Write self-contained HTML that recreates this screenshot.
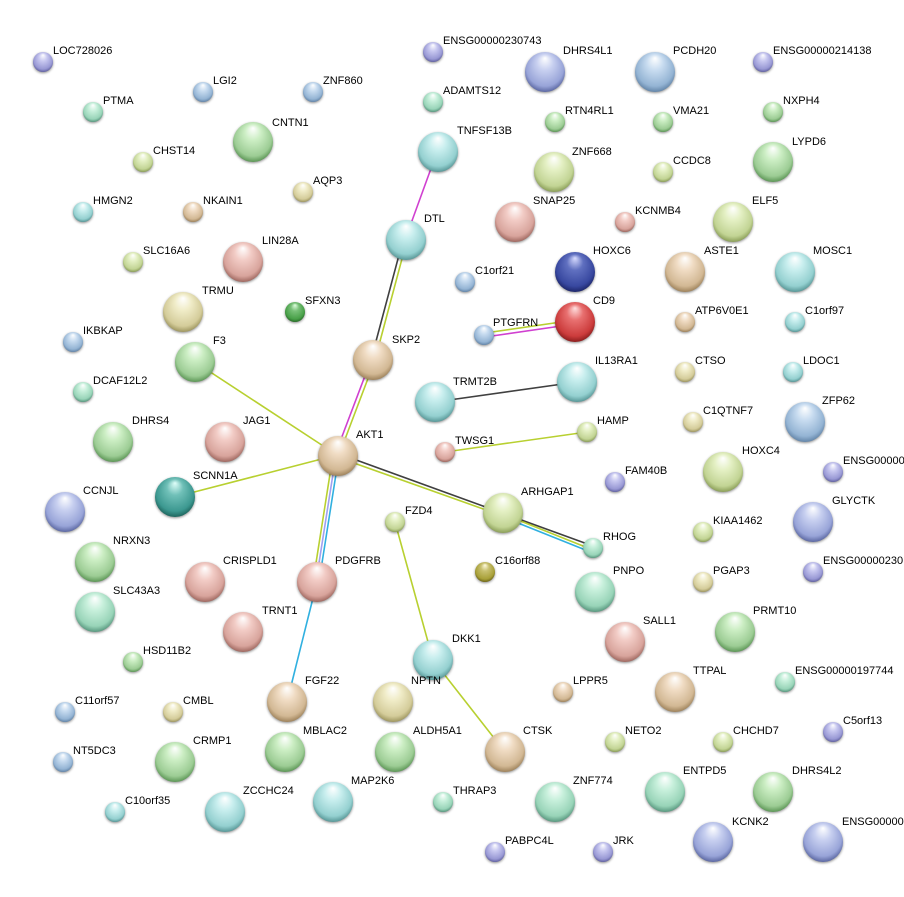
<!DOCTYPE html>
<html><head><meta charset="utf-8"><style>
html,body{margin:0;padding:0;background:#fff;width:904px;height:897px;overflow:hidden}
svg text{font-family:"Liberation Sans",Arial,sans-serif;font-size:11px;fill:#000}
svg g.n circle{filter:drop-shadow(0 1px 1.2px rgba(0,0,0,0.45))}
</style></head><body>
<svg width="904" height="897" viewBox="0 0 904 897" xmlns="http://www.w3.org/2000/svg">
<defs>
<radialGradient id="blue" cx="50%" cy="45%" r="58%" fx="50%" fy="15%"><stop offset="0" stop-color="#ffffff"/><stop offset="0.35" stop-color="#c8dcf0"/><stop offset="0.8" stop-color="#94b4d4"/><stop offset="1" stop-color="#5a7ca0"/></radialGradient>
<radialGradient id="purple" cx="50%" cy="45%" r="58%" fx="50%" fy="15%"><stop offset="0" stop-color="#ffffff"/><stop offset="0.35" stop-color="#c8c8f0"/><stop offset="0.8" stop-color="#9898d4"/><stop offset="1" stop-color="#585898"/></radialGradient>
<radialGradient id="bp" cx="50%" cy="45%" r="58%" fx="50%" fy="15%"><stop offset="0" stop-color="#ffffff"/><stop offset="0.35" stop-color="#c8d0f0"/><stop offset="0.8" stop-color="#98a4d8"/><stop offset="1" stop-color="#505c98"/></radialGradient>
<radialGradient id="green" cx="50%" cy="45%" r="58%" fx="50%" fy="15%"><stop offset="0" stop-color="#ffffff"/><stop offset="0.35" stop-color="#cceec4"/><stop offset="0.8" stop-color="#9ccc94"/><stop offset="1" stop-color="#508c4a"/></radialGradient>
<radialGradient id="teal" cx="50%" cy="45%" r="58%" fx="50%" fy="15%"><stop offset="0" stop-color="#ffffff"/><stop offset="0.35" stop-color="#c8eeee"/><stop offset="0.8" stop-color="#94d0d0"/><stop offset="1" stop-color="#4c8c8c"/></radialGradient>
<radialGradient id="tg" cx="50%" cy="45%" r="58%" fx="50%" fy="15%"><stop offset="0" stop-color="#ffffff"/><stop offset="0.35" stop-color="#c8f0dc"/><stop offset="0.8" stop-color="#98d4b8"/><stop offset="1" stop-color="#4c8c74"/></radialGradient>
<radialGradient id="yellow" cx="50%" cy="45%" r="58%" fx="50%" fy="15%"><stop offset="0" stop-color="#ffffff"/><stop offset="0.35" stop-color="#f0ecc8"/><stop offset="0.8" stop-color="#d4cc9a"/><stop offset="1" stop-color="#948c54"/></radialGradient>
<radialGradient id="yg" cx="50%" cy="45%" r="58%" fx="50%" fy="15%"><stop offset="0" stop-color="#ffffff"/><stop offset="0.35" stop-color="#e4f0c4"/><stop offset="0.8" stop-color="#c2d494"/><stop offset="1" stop-color="#80944c"/></radialGradient>
<radialGradient id="tan" cx="50%" cy="45%" r="58%" fx="50%" fy="15%"><stop offset="0" stop-color="#ffffff"/><stop offset="0.35" stop-color="#f0dcc4"/><stop offset="0.8" stop-color="#d2b894"/><stop offset="1" stop-color="#947850"/></radialGradient>
<radialGradient id="salmon" cx="50%" cy="45%" r="58%" fx="50%" fy="15%"><stop offset="0" stop-color="#ffffff"/><stop offset="0.35" stop-color="#f2ccc6"/><stop offset="0.8" stop-color="#d8a49c"/><stop offset="1" stop-color="#945c54"/></radialGradient>
<radialGradient id="red" cx="50%" cy="45%" r="58%" fx="50%" fy="15%"><stop offset="0" stop-color="#ffe0e0"/><stop offset="0.35" stop-color="#e87070"/><stop offset="0.8" stop-color="#cc3c3c"/><stop offset="1" stop-color="#801818"/></radialGradient>
<radialGradient id="dblue" cx="50%" cy="45%" r="58%" fx="50%" fy="15%"><stop offset="0" stop-color="#d8dcff"/><stop offset="0.35" stop-color="#6070c0"/><stop offset="0.8" stop-color="#3848a0"/><stop offset="1" stop-color="#182060"/></radialGradient>
<radialGradient id="dteal" cx="50%" cy="45%" r="58%" fx="50%" fy="15%"><stop offset="0" stop-color="#e0fffa"/><stop offset="0.35" stop-color="#70c0b8"/><stop offset="0.8" stop-color="#3c9890"/><stop offset="1" stop-color="#185c54"/></radialGradient>
<radialGradient id="olive" cx="50%" cy="45%" r="58%" fx="50%" fy="15%"><stop offset="0" stop-color="#fffce0"/><stop offset="0.35" stop-color="#c8c070"/><stop offset="0.8" stop-color="#a8a038"/><stop offset="1" stop-color="#645c14"/></radialGradient>
<radialGradient id="dgreen" cx="50%" cy="45%" r="58%" fx="50%" fy="15%"><stop offset="0" stop-color="#e0ffe0"/><stop offset="0.35" stop-color="#78c078"/><stop offset="0.8" stop-color="#48a048"/><stop offset="1" stop-color="#246424"/></radialGradient>
</defs>
<g fill="none" stroke-width="1.6">
<line x1="437" y1="152" x2="405" y2="240" stroke="#d040d0"/>
<line x1="403" y1="240" x2="371" y2="360" stroke="#404040"/>
<line x1="407" y1="240" x2="375" y2="360" stroke="#b8d030"/>
<line x1="371" y1="360" x2="335" y2="455" stroke="#d040d0"/>
<line x1="375" y1="360" x2="339" y2="455" stroke="#b8d030"/>
<line x1="485" y1="333" x2="575" y2="320" stroke="#b8d030"/>
<line x1="485" y1="337" x2="575" y2="324" stroke="#d040d0"/>
<line x1="435" y1="402" x2="577" y2="382" stroke="#404040"/>
<line x1="445" y1="452" x2="587" y2="432" stroke="#b8d030"/>
<line x1="195" y1="362" x2="337" y2="455" stroke="#b8d030"/>
<line x1="175" y1="497" x2="337" y2="455" stroke="#b8d030"/>
<line x1="337" y1="453" x2="593" y2="546" stroke="#404040"/>
<line x1="337" y1="457" x2="503" y2="516" stroke="#b8d030"/>
<line x1="503" y1="514" x2="593" y2="550" stroke="#b8d030"/>
<line x1="503" y1="517" x2="593" y2="553" stroke="#30b0e0"/>
<line x1="333" y1="455" x2="313" y2="582" stroke="#b8d030"/>
<line x1="336" y1="455" x2="316" y2="582" stroke="#a0a0f0"/>
<line x1="339" y1="455" x2="319" y2="582" stroke="#30b0e0"/>
<line x1="317" y1="582" x2="287" y2="702" stroke="#30b0e0"/>
<line x1="395" y1="522" x2="433" y2="660" stroke="#b8d030"/>
<line x1="433" y1="660" x2="505" y2="752" stroke="#b8d030"/>
</g>
<g class="n">
<circle cx="43" cy="62" r="10" fill="url(#purple)"/><text x="53" y="54">LOC728026</text>
<circle cx="433" cy="52" r="10" fill="url(#purple)"/><text x="443" y="44">ENSG00000230743</text>
<circle cx="545" cy="72" r="20" fill="url(#bp)"/><text x="563" y="54">DHRS4L1</text>
<circle cx="655" cy="72" r="20" fill="url(#blue)"/><text x="673" y="54">PCDH20</text>
<circle cx="763" cy="62" r="10" fill="url(#purple)"/><text x="773" y="54">ENSG00000214138</text>
<circle cx="203" cy="92" r="10" fill="url(#blue)"/><text x="213" y="84">LGI2</text>
<circle cx="313" cy="92" r="10" fill="url(#blue)"/><text x="323" y="84">ZNF860</text>
<circle cx="93" cy="112" r="10" fill="url(#tg)"/><text x="103" y="104">PTMA</text>
<circle cx="433" cy="102" r="10" fill="url(#tg)"/><text x="443" y="94">ADAMTS12</text>
<circle cx="555" cy="122" r="10" fill="url(#green)"/><text x="565" y="114">RTN4RL1</text>
<circle cx="663" cy="122" r="10" fill="url(#green)"/><text x="673" y="114">VMA21</text>
<circle cx="773" cy="112" r="10" fill="url(#green)"/><text x="783" y="104">NXPH4</text>
<circle cx="253" cy="142" r="20" fill="url(#green)"/><text x="272" y="126">CNTN1</text>
<circle cx="438" cy="152" r="20" fill="url(#teal)"/><text x="457" y="134">TNFSF13B</text>
<circle cx="554" cy="172" r="20" fill="url(#yg)"/><text x="572" y="155">ZNF668</text>
<circle cx="773" cy="162" r="20" fill="url(#green)"/><text x="792" y="145">LYPD6</text>
<circle cx="143" cy="162" r="10" fill="url(#yg)"/><text x="153" y="154">CHST14</text>
<circle cx="663" cy="172" r="10" fill="url(#yg)"/><text x="673" y="164">CCDC8</text>
<circle cx="303" cy="192" r="10" fill="url(#yellow)"/><text x="313" y="184">AQP3</text>
<circle cx="83" cy="212" r="10" fill="url(#teal)"/><text x="93" y="204">HMGN2</text>
<circle cx="193" cy="212" r="10" fill="url(#tan)"/><text x="203" y="204">NKAIN1</text>
<circle cx="515" cy="222" r="20" fill="url(#salmon)"/><text x="533" y="204">SNAP25</text>
<circle cx="625" cy="222" r="10" fill="url(#salmon)"/><text x="635" y="214">KCNMB4</text>
<circle cx="733" cy="222" r="20" fill="url(#yg)"/><text x="752" y="204">ELF5</text>
<circle cx="406" cy="240" r="20" fill="url(#teal)"/><text x="424" y="222">DTL</text>
<circle cx="243" cy="262" r="20" fill="url(#salmon)"/><text x="262" y="244">LIN28A</text>
<circle cx="133" cy="262" r="10" fill="url(#yg)"/><text x="143" y="254">SLC16A6</text>
<circle cx="575" cy="272" r="20" fill="url(#dblue)"/><text x="593" y="254">HOXC6</text>
<circle cx="685" cy="272" r="20" fill="url(#tan)"/><text x="704" y="254">ASTE1</text>
<circle cx="795" cy="272" r="20" fill="url(#teal)"/><text x="813" y="254">MOSC1</text>
<circle cx="465" cy="282" r="10" fill="url(#blue)"/><text x="475" y="274">C1orf21</text>
<circle cx="183" cy="312" r="20" fill="url(#yellow)"/><text x="202" y="294">TRMU</text>
<circle cx="295" cy="312" r="10" fill="url(#dgreen)"/><text x="305" y="304">SFXN3</text>
<circle cx="575" cy="322" r="20" fill="url(#red)"/><text x="593" y="304">CD9</text>
<circle cx="685" cy="322" r="10" fill="url(#tan)"/><text x="695" y="314">ATP6V0E1</text>
<circle cx="795" cy="322" r="10" fill="url(#teal)"/><text x="805" y="314">C1orf97</text>
<circle cx="73" cy="342" r="10" fill="url(#blue)"/><text x="83" y="334">IKBKAP</text>
<circle cx="484" cy="335" r="10" fill="url(#blue)"/><text x="493" y="326">PTGFRN</text>
<circle cx="195" cy="362" r="20" fill="url(#green)"/><text x="213" y="344">F3</text>
<circle cx="373" cy="360" r="20" fill="url(#tan)"/><text x="392" y="343">SKP2</text>
<circle cx="577" cy="382" r="20" fill="url(#teal)"/><text x="595" y="364">IL13RA1</text>
<circle cx="685" cy="372" r="10" fill="url(#yellow)"/><text x="695" y="364">CTSO</text>
<circle cx="793" cy="372" r="10" fill="url(#teal)"/><text x="803" y="364">LDOC1</text>
<circle cx="83" cy="392" r="10" fill="url(#tg)"/><text x="93" y="384">DCAF12L2</text>
<circle cx="435" cy="402" r="20" fill="url(#teal)"/><text x="453" y="385">TRMT2B</text>
<circle cx="693" cy="422" r="10" fill="url(#yellow)"/><text x="703" y="414">C1QTNF7</text>
<circle cx="805" cy="422" r="20" fill="url(#blue)"/><text x="822" y="404">ZFP62</text>
<circle cx="587" cy="432" r="10" fill="url(#yg)"/><text x="597" y="424">HAMP</text>
<circle cx="113" cy="442" r="20" fill="url(#green)"/><text x="132" y="424">DHRS4</text>
<circle cx="225" cy="442" r="20" fill="url(#salmon)"/><text x="243" y="424">JAG1</text>
<circle cx="338" cy="456" r="20" fill="url(#tan)"/><text x="356" y="438">AKT1</text>
<circle cx="445" cy="452" r="10" fill="url(#salmon)"/><text x="455" y="444">TWSG1</text>
<circle cx="723" cy="472" r="20" fill="url(#yg)"/><text x="742" y="454">HOXC4</text>
<circle cx="833" cy="472" r="10" fill="url(#purple)"/><text x="843" y="464">ENSG00000</text>
<circle cx="615" cy="482" r="10" fill="url(#purple)"/><text x="625" y="474">FAM40B</text>
<circle cx="175" cy="497" r="20" fill="url(#dteal)"/><text x="193" y="479">SCNN1A</text>
<circle cx="65" cy="512" r="20" fill="url(#bp)"/><text x="83" y="494">CCNJL</text>
<circle cx="503" cy="513" r="20" fill="url(#yg)"/><text x="521" y="495">ARHGAP1</text>
<circle cx="813" cy="522" r="20" fill="url(#bp)"/><text x="832" y="504">GLYCTK</text>
<circle cx="395" cy="522" r="10" fill="url(#yg)"/><text x="405" y="514">FZD4</text>
<circle cx="703" cy="532" r="10" fill="url(#yg)"/><text x="713" y="524">KIAA1462</text>
<circle cx="593" cy="548" r="10" fill="url(#tg)"/><text x="603" y="540">RHOG</text>
<circle cx="95" cy="562" r="20" fill="url(#green)"/><text x="113" y="544">NRXN3</text>
<circle cx="205" cy="582" r="20" fill="url(#salmon)"/><text x="223" y="564">CRISPLD1</text>
<circle cx="317" cy="582" r="20" fill="url(#salmon)"/><text x="335" y="564">PDGFRB</text>
<circle cx="485" cy="572" r="10" fill="url(#olive)"/><text x="495" y="564">C16orf88</text>
<circle cx="595" cy="592" r="20" fill="url(#tg)"/><text x="613" y="574">PNPO</text>
<circle cx="703" cy="582" r="10" fill="url(#yellow)"/><text x="713" y="574">PGAP3</text>
<circle cx="813" cy="572" r="10" fill="url(#purple)"/><text x="823" y="564">ENSG00000230</text>
<circle cx="95" cy="612" r="20" fill="url(#tg)"/><text x="113" y="594">SLC43A3</text>
<circle cx="243" cy="632" r="20" fill="url(#salmon)"/><text x="262" y="614">TRNT1</text>
<circle cx="625" cy="642" r="20" fill="url(#salmon)"/><text x="643" y="624">SALL1</text>
<circle cx="735" cy="632" r="20" fill="url(#green)"/><text x="753" y="614">PRMT10</text>
<circle cx="133" cy="662" r="10" fill="url(#green)"/><text x="143" y="654">HSD11B2</text>
<circle cx="433" cy="660" r="20" fill="url(#teal)"/><text x="452" y="642">DKK1</text>
<circle cx="785" cy="682" r="10" fill="url(#tg)"/><text x="795" y="674">ENSG00000197744</text>
<circle cx="287" cy="702" r="20" fill="url(#tan)"/><text x="305" y="684">FGF22</text>
<circle cx="393" cy="702" r="20" fill="url(#yellow)"/><text x="411" y="684">NPTN</text>
<circle cx="563" cy="692" r="10" fill="url(#tan)"/><text x="573" y="684">LPPR5</text>
<circle cx="675" cy="692" r="20" fill="url(#tan)"/><text x="693" y="674">TTPAL</text>
<circle cx="65" cy="712" r="10" fill="url(#blue)"/><text x="75" y="704">C11orf57</text>
<circle cx="173" cy="712" r="10" fill="url(#yellow)"/><text x="183" y="704">CMBL</text>
<circle cx="833" cy="732" r="10" fill="url(#purple)"/><text x="843" y="724">C5orf13</text>
<circle cx="285" cy="752" r="20" fill="url(#green)"/><text x="303" y="734">MBLAC2</text>
<circle cx="395" cy="752" r="20" fill="url(#green)"/><text x="413" y="734">ALDH5A1</text>
<circle cx="505" cy="752" r="20" fill="url(#tan)"/><text x="523" y="734">CTSK</text>
<circle cx="615" cy="742" r="10" fill="url(#yg)"/><text x="625" y="734">NETO2</text>
<circle cx="723" cy="742" r="10" fill="url(#yg)"/><text x="733" y="734">CHCHD7</text>
<circle cx="175" cy="762" r="20" fill="url(#green)"/><text x="193" y="744">CRMP1</text>
<circle cx="63" cy="762" r="10" fill="url(#blue)"/><text x="73" y="754">NT5DC3</text>
<circle cx="665" cy="792" r="20" fill="url(#tg)"/><text x="683" y="774">ENTPD5</text>
<circle cx="773" cy="792" r="20" fill="url(#green)"/><text x="792" y="774">DHRS4L2</text>
<circle cx="555" cy="802" r="20" fill="url(#tg)"/><text x="573" y="784">ZNF774</text>
<circle cx="333" cy="802" r="20" fill="url(#teal)"/><text x="351" y="784">MAP2K6</text>
<circle cx="225" cy="812" r="20" fill="url(#teal)"/><text x="243" y="794">ZCCHC24</text>
<circle cx="443" cy="802" r="10" fill="url(#tg)"/><text x="453" y="794">THRAP3</text>
<circle cx="115" cy="812" r="10" fill="url(#teal)"/><text x="125" y="804">C10orf35</text>
<circle cx="495" cy="852" r="10" fill="url(#purple)"/><text x="505" y="844">PABPC4L</text>
<circle cx="603" cy="852" r="10" fill="url(#purple)"/><text x="613" y="844">JRK</text>
<circle cx="713" cy="842" r="20" fill="url(#bp)"/><text x="732" y="825">KCNK2</text>
<circle cx="823" cy="842" r="20" fill="url(#bp)"/><text x="842" y="825">ENSG00000</text>
</g>
</svg>
</body></html>
